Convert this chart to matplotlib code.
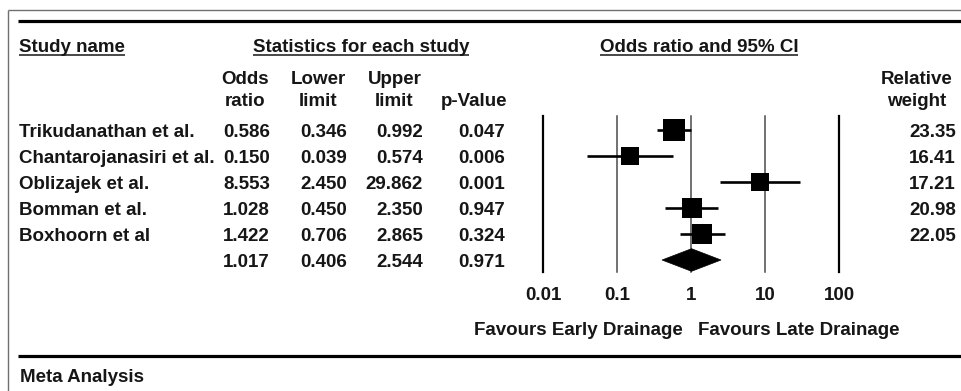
import matplotlib
matplotlib.use("Agg")
import matplotlib.pyplot as plt
from matplotlib.patches import Polygon
import numpy as np

# ---------------- data ----------------
studies = ["Trikudanathan et al.", "Chantarojanasiri et al.", "Oblizajek et al.",
           "Bomman et al.", "Boxhoorn et al"]
odds_ratio = [0.586, 0.150, 8.553, 1.028, 1.422]
lower_limit = [0.346, 0.039, 2.450, 0.450, 0.706]
upper_limit = [0.992, 0.574, 29.862, 2.350, 2.865]
p_values = [0.047, 0.006, 0.001, 0.947, 0.324]
rel_weight = [23.35, 16.41, 17.21, 20.98, 22.05]
pooled_or, pooled_lo, pooled_hi, pooled_p = 1.017, 0.406, 2.544, 0.971
axis_ticks = [0.01, 0.1, 1, 10, 100]
axis_tick_labels = ["0.01", "0.1", "1", "10", "100"]

# ---------------- style ----------------
plt.rcParams["font.family"] = ["Liberation Sans", "DejaVu Sans"]
plt.rcParams["font.weight"] = "bold"
FS = 13.5
TXT = "#161616"

W, H = 962, 391
fig = plt.figure(figsize=(W / 100, H / 100), dpi=100)
ax0 = fig.add_axes([0, 0, 1, 1])
ax0.set_xlim(0, W)
ax0.set_ylim(H, 0)
ax0.axis("off")

# frame and rules
ax0.plot([8, W + 5], [10, 10], color="#707070", lw=1.0, solid_capstyle="butt")
ax0.plot([8, 8], [10, H + 5], color="#707070", lw=1.0, solid_capstyle="butt")
ax0.plot([18, W + 5], [20.5, 20.5], color="black", lw=2.3, solid_capstyle="butt")
ax0.plot([18, W + 5], [356, 356], color="black", lw=2.3, solid_capstyle="butt")


def t(x, y, s, ha="left", **kw):
    return ax0.text(x, y, s, ha=ha, va="baseline", fontsize=FS,
                    fontweight="bold", color=TXT, **kw)


# headers
underlined = [t(19, 52.5, "Study name"),
              t(361, 52.5, "Statistics for each study", ha="center"),
              t(699, 52.5, "Odds ratio and 95% CI", ha="center")]
col_centers = [245.5, 318.5, 394.5]
for cx, (a, b) in zip(col_centers, [("Odds", "ratio"), ("Lower", "limit"), ("Upper", "limit")]):
    t(cx, 83.5, a, ha="center")
    t(cx, 106, b, ha="center")
t(474, 106, "p-Value", ha="center")
t(917, 83.5, "Relative", ha="center")
t(917, 106, "weight", ha="center")

# table rows
row0, dy = 130, 26
col_right = [270, 347, 423, 505]
for i, name in enumerate(studies):
    yb = row0 + dy * i + 6.8
    t(19, yb, name)
    for xr, v in zip(col_right, [odds_ratio[i], lower_limit[i], upper_limit[i], p_values[i]]):
        t(xr, yb, f"{v:.3f}", ha="right")
    t(956, yb, f"{rel_weight[i]:.2f}", ha="right")
yb = row0 + dy * len(studies) + 6.8
for xr, v in zip(col_right, [pooled_or, pooled_lo, pooled_hi, pooled_p]):
    t(xr, yb, f"{v:.3f}", ha="right")

t(20, 381.5, "Meta Analysis")

# ---------------- forest axes ----------------
x_left, x_right, y_top, y_bot = 543, 839, 116, 272
axf = fig.add_axes([x_left / W, (H - y_bot) / H, (x_right - x_left) / W, (y_bot - y_top) / H])
axf.set_xscale("log")
axf.set_xlim(axis_ticks[0], axis_ticks[-1])
axf.set_ylim((y_bot - row0) / dy, (y_top - row0) / dy)
axf.patch.set_alpha(0)
for sp in axf.spines.values():
    sp.set_visible(False)
axf.set_yticks([])
axf.set_xticks(axis_ticks)
axf.set_xticklabels(axis_tick_labels)
axf.minorticks_off()
axf.tick_params(axis="x", length=0, pad=11.0, labelsize=FS, labelcolor=TXT)
for lab in axf.get_xticklabels():
    lab.set_fontweight("bold")

for k, xv in enumerate(axis_ticks):
    outer = k in (0, len(axis_ticks) - 1)
    axf.axvline(xv, color="black" if outer else "#4a4a4a", lw=1.6 if outer else 1.1,
                clip_on=False, zorder=1)

for i in range(len(studies)):
    axf.plot([lower_limit[i], upper_limit[i]], [i, i], color="black", lw=1.9,
             solid_capstyle="butt", zorder=2, clip_on=False)
    axf.plot(odds_ratio[i], i, marker="s", ms=3.2 * np.sqrt(rel_weight[i]),
             color="black", mew=0, zorder=3, clip_on=False)

yp = len(studies)
hh = 0.435
axf.add_patch(Polygon([(pooled_lo, yp), (pooled_or, yp - hh), (pooled_hi, yp), (pooled_or, yp + hh)],
                      closed=True, facecolor="black", edgecolor="black", lw=0.5,
                      zorder=3, clip_on=False))

# favours labels
axf.annotate("Favours Early Drainage", xy=(1, 335), xycoords=("data", ax0.transData),
             xytext=(-6, 0), textcoords="offset points", ha="right", va="baseline",
             fontsize=FS, fontweight="bold", color=TXT, annotation_clip=False)
axf.annotate("Favours Late Drainage", xy=(1, 335), xycoords=("data", ax0.transData),
             xytext=(5, 0), textcoords="offset points", ha="left", va="baseline",
             fontsize=FS, fontweight="bold", color=TXT, annotation_clip=False)

# underlines under section headers
fig.canvas.draw()
r = fig.canvas.get_renderer()
inv = ax0.transData.inverted()
for txt in underlined:
    bb = txt.get_window_extent(r)
    (x1, _), (x2, _) = inv.transform([(bb.x0, bb.y0), (bb.x1, bb.y1)])
    ax0.plot([x1, x2], [55.3, 55.3], color=TXT, lw=1.1, solid_capstyle="butt")

fig.savefig("out.png", dpi=100)
